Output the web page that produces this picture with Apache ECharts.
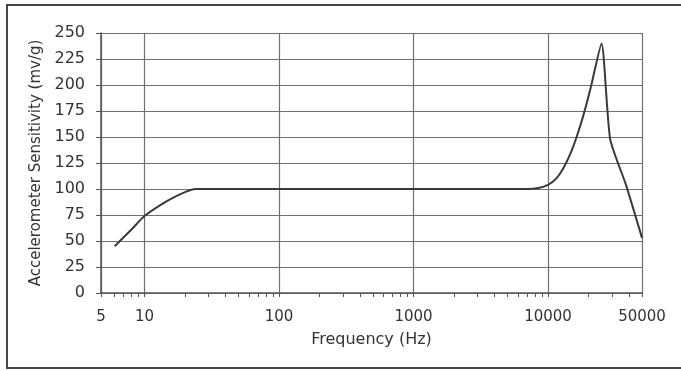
<!DOCTYPE html>
<html>
<head>
<meta charset="utf-8">
<script src="https://cdn.jsdelivr.net/npm/echarts@6/dist/echarts.min.js"></script>
<style>
  html, body { margin: 0; padding: 0; background: #fff; }
  #chart { width: 681px; height: 371px; }
</style>
</head>
<body>
<div id="chart"></div>
<script>
// frequency (Hz) and sensitivity (mv/g)
const freqs = [6, 8, 10, 15, 20, 24, 1000, 7000, 8500, 10000, 11500, 13000, 15000, 17000, 19000, 21000, 25000, 29000, 38000, 50000];
const sensitivity = [45, 61, 74, 89, 97, 100, 100, 100, 101, 104, 110, 120, 137, 157, 178, 200, 240, 148, 104, 53];

// minor tick marks on the log axis
const minorTicks = [6, 7, 8, 9, 20, 30, 40, 50, 60, 70, 80, 90,
  200, 300, 400, 500, 600, 700, 800, 900,
  2000, 3000, 4000, 5000, 6000, 7000, 8000, 9000,
  20000, 30000, 40000];

const chart = echarts.init(document.getElementById("chart"));

const font = "DejaVu Sans";
const gridColor = "#707070";

chart.setOption({
  animation: false,
  textStyle: { fontFamily: font },
  grid: { left: 101, right: 39, top: 33, bottom: 78 },
  graphic: [
    {
      type: "rect",
      shape: { x: 7, y: 5, width: 690, height: 363 },
      style: { fill: "none", stroke: "#444", lineWidth: 2 }
    }
  ],
  xAxis: [
    {
      type: "log",
      // the original axis starts a touch below 5 but is labelled "5"
      min: 4.75,
      max: 50000,
      name: "Frequency (Hz)",
      nameLocation: "middle",
      nameGap: 39,
      nameTextStyle: { fontSize: 16, color: "#333", fontFamily: font },
      axisLine: { show: true, lineStyle: { color: "#555", width: 1.5 } },
      axisTick: { show: true, length: 4, lineStyle: { color: "#555" } },
      axisLabel: {
        fontSize: 15,
        color: "#333",
        margin: 17,
        fontFamily: font,
        formatter: v => (v < 5 ? "5" : String(Math.round(v)))
      },
      splitLine: { show: true, lineStyle: { color: gridColor, width: 1.2 } }
    },
    {
      type: "log",
      min: 4.75,
      max: 50000,
      position: "bottom",
      axisLine: { show: false },
      axisLabel: { show: false },
      splitLine: { show: false },
      axisTick: {
        show: true,
        length: 4,
        customValues: minorTicks,
        lineStyle: { color: "#555" }
      }
    }
  ],
  yAxis: {
    type: "value",
    min: 0,
    max: 250,
    interval: 25,
    name: "Accelerometer Sensitivity (mv/g)",
    nameLocation: "middle",
    nameGap: 54,
    nameTextStyle: { fontSize: 15, color: "#333", fontFamily: font },
    axisLine: { show: true, lineStyle: { color: "#555", width: 1.5 } },
    axisTick: { show: true, length: 5, lineStyle: { color: "#555" } },
    axisLabel: { fontSize: 16, color: "#333", margin: 16, fontFamily: font },
    splitLine: { show: true, lineStyle: { color: gridColor, width: 1.2 } }
  },
  series: [
    {
      type: "line",
      xAxisIndex: 0,
      data: freqs.map((f, i) => [f, sensitivity[i]]),
      showSymbol: false,
      smooth: 0.2,
      lineStyle: { color: "#3a3a3a", width: 2 }
    }
  ]
});
</script>
</body>
</html>
